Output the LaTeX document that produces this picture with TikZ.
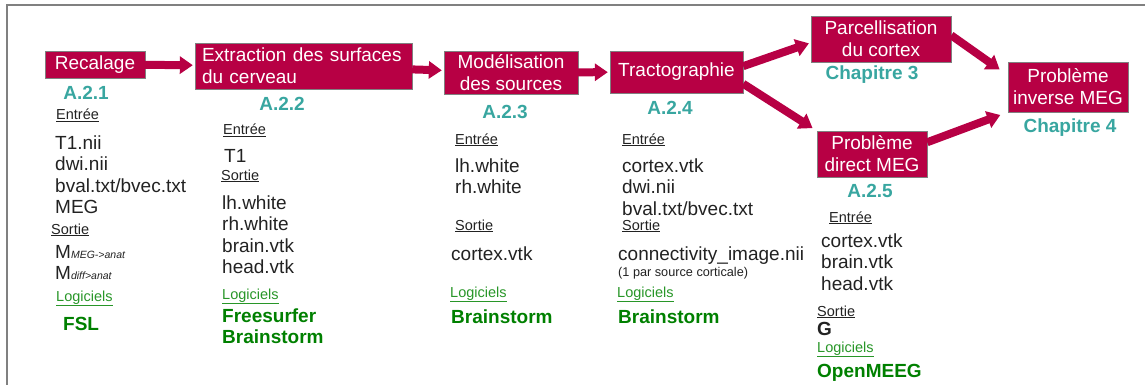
\documentclass[tikz,border=0pt]{standalone}
\usepackage{fontspec}
\setmainfont{Liberation Sans}
\usetikzlibrary{arrows.meta}
\definecolor{crimson}{RGB}{183,0,68}
\definecolor{chapteal}{RGB}{56,166,160}
\definecolor{texte}{RGB}{34,34,34}
\definecolor{vert}{RGB}{0,128,0}
\definecolor{vertclair}{RGB}{40,150,40}
\begin{document}
\begin{tikzpicture}[x=1pt, y=-1pt,
    etape/.style={draw=gray, fill=crimson, text=white, inner sep=0pt, align=center, font=\fontsize{19}{22}\selectfont},
    fleche/.style={-{Triangle[length=13pt,width=17pt]}, line width=8pt, draw=crimson, shorten >=2pt},
    titre/.style={text=chapteal, font=\bfseries\fontsize{19}{22}\selectfont, inner sep=0pt, anchor=base},
    rubrique/.style={text=texte, font=\fontsize{14.5}{17}\selectfont, inner sep=0pt, anchor=base west},
    logiciels/.style={rubrique, text=vertclair},
    liste/.style={text=texte, align=left, font=\fontsize{19}{21.5}\selectfont, inner sep=0pt, anchor=base west},
    outil/.style={text=vert, align=left, font=\bfseries\fontsize{19}{21}\selectfont, inner sep=0pt, anchor=base west}]
    \useasboundingbox (0,0) rectangle (1145,385);
    \draw[gray, line width=2pt] (1145,5) -- (7,5) -- (7,385);

    % Etapes du pipeline
    \node[etape, minimum width=100pt, minimum height=27pt] (Recalage) at (95,64.5) {Recalage};
    \node[etape, minimum width=217pt, minimum height=46pt, text width=203pt, align=left] (Extraction) at (303.5,66) {Extraction des surfaces\\du cerveau};
    \node[etape, minimum width=134pt, minimum height=43pt] (Modelisation) at (511,72.5) {Modélisation\\des sources};
    \node[etape, minimum width=133pt, minimum height=42pt] (Tractographie) at (676.5,72) {Tractographie};
    \node[etape, minimum width=140pt, minimum height=46pt] (Parcellisation) at (881,39) {Parcellisation\\du cortex};
    \node[etape, minimum width=110pt, minimum height=46pt] (Direct) at (872,154) {Problème\\direct MEG};
    \node[etape, minimum width=120pt, minimum height=50pt] (Inverse) at (1068,87) {Problème\\inverse MEG};

    % Fleches
    \draw[fleche] (Recalage) -- (Extraction);
    \draw[fleche] (Extraction) -- (Modelisation);
    \draw[fleche] (Modelisation) -- (Tractographie);
    \draw[fleche] (Tractographie.5) -- (Parcellisation.183);
    \draw[fleche, shorten >=5pt] (Tractographie.-10) -- (Direct.north west);
    \draw[fleche, shorten >=10pt] (Parcellisation.3) -- (Inverse.169);
    \draw[fleche, shorten >=8pt] (Direct.12) -- (Inverse.south west);

    % Numeros des sections
    \node[titre] (A21) at (86,100) {A.2.1};
    \node[titre] (A22) at (282,111) {A.2.2};
    \node[titre] (A23) at (505,118) {A.2.3};
    \node[titre] (A24) at (670,114) {A.2.4};
    \node[titre] (Chap3) at (872,80) {Chapitre 3};
    \node[titre] (Chap4) at (1070,132) {Chapitre 4};
    \node[titre] (A25) at (870,197) {A.2.5};

    % Recalage
    \node[rubrique] (Entree1) at (56,120) {\underline{Entrée}};
    \node[liste] (In1) at (55,213.5) {T1.nii\\dwi.nii\\bval.txt/bvec.txt\\MEG};
    \node[rubrique] (Sortie1) at (51,234) {\underline{Sortie}};
    \node[liste] (Out1) at (55,279.5) {M{\fontsize{10.5}{12}\selectfont\itshape MEG->anat}\\M{\fontsize{10.5}{12}\selectfont\itshape diff>anat}};
    \node[logiciels] (Logiciels1) at (56,301) {\underline{Logiciels}};
    \node[outil] (Outil1) at (63,330) {FSL};

    % Extraction des surfaces
    \node[rubrique] (Entree2) at (223,135) {\underline{Entrée}};
    \node[liste] (In2) at (224,162) {T1};
    \node[rubrique] (Sortie2) at (221,180) {\underline{Sortie}};
    \node[liste] (Out2) at (222,273.5) {lh.white\\rh.white\\brain.vtk\\head.vtk};
    \node[logiciels] (Logiciels2) at (222,299) {\underline{Logiciels}};
    \node[outil] (Outil2) at (222,343) {Freesurfer\\Brainstorm};

    % Modelisation des sources
    \node[rubrique] (Entree3) at (455,144) {\underline{Entrée}};
    \node[liste] (In3) at (455,193.5) {lh.white\\rh.white};
    \node[rubrique] (Sortie3) at (455,230) {\underline{Sortie}};
    \node[liste] (Out3) at (451,260) {cortex.vtk};
    \node[logiciels] (Logiciels3) at (450,297) {\underline{Logiciels}};
    \node[outil] (Outil3) at (451,323) {Brainstorm};

    % Tractographie
    \node[rubrique] (Entree4) at (622,144) {\underline{Entrée}};
    \node[liste] (In4) at (622,215) {cortex.vtk\\dwi.nii\\bval.txt/bvec.txt};
    \node[rubrique] (Sortie4) at (622,230) {\underline{Sortie}};
    \node[liste] (Out4) at (618,260) {connectivity\_image.nii};
    \node[rubrique, font=\fontsize{12.7}{15}\selectfont] (Note4) at (618,276.5) {(1 par source corticale)};
    \node[logiciels] (Logiciels4) at (617,297) {\underline{Logiciels}};
    \node[outil] (Outil4) at (618,323) {Brainstorm};

    % Probleme direct
    \node[rubrique] (Entree5) at (829,222) {\underline{Entrée}};
    \node[liste] (In5) at (821,290) {cortex.vtk\\brain.vtk\\head.vtk};
    \node[rubrique] (Sortie5) at (817,316) {\underline{Sortie}};
    \node[liste, font=\bfseries\fontsize{19}{21.5}\selectfont] (Out5) at (817,335) {G};
    \node[logiciels] (Logiciels5) at (817,352) {\underline{Logiciels}};
    \node[outil] (Outil5) at (817,377) {OpenMEEG};
\end{tikzpicture}
\end{document}
